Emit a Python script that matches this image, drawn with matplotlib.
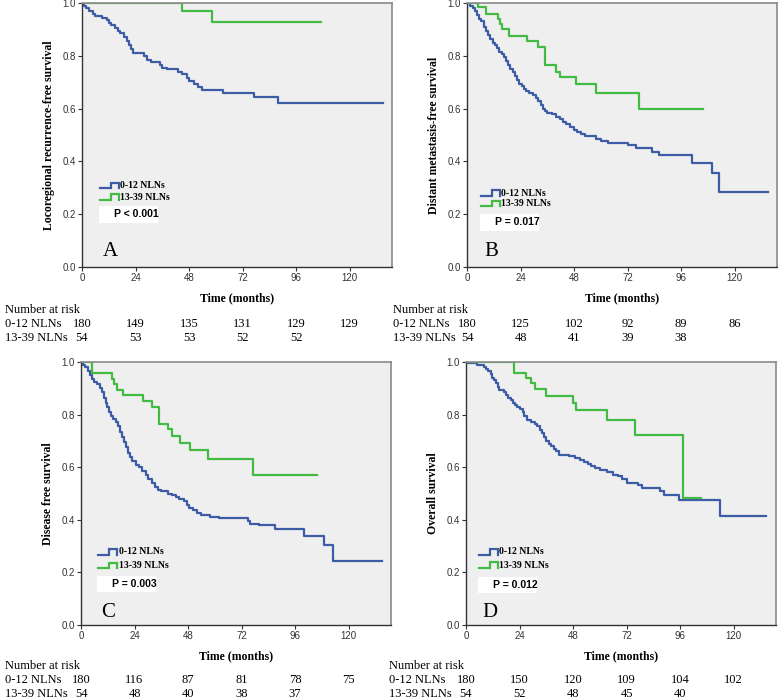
import matplotlib
matplotlib.use("Agg")
import matplotlib.pyplot as plt
from matplotlib.patches import Rectangle
from matplotlib.transforms import blended_transform_factory

# ---- data ----
a_blue_t = [1, 2, 3, 5, 6, 9, 11, 12, 13, 15, 16, 17, 19, 20, 21, 22, 23, 28, 29, 31,
            35, 36, 38, 43, 45, 47, 48, 50, 52, 54, 63, 77, 88]
a_blue_s = [0.99, 0.98, 0.97, 0.96, 0.95, 0.945, 0.935, 0.925, 0.915, 0.905, 0.895, 0.885,
            0.87, 0.855, 0.84, 0.825, 0.81, 0.80, 0.785, 0.775, 0.765, 0.755, 0.75, 0.74,
            0.73, 0.715, 0.705, 0.695, 0.68, 0.67, 0.66, 0.645, 0.62]
a_blue_end = 135
a_green_t = [45, 58.5]
a_green_s = [0.97, 0.927]
a_green_end = 107

b_blue_t = [1.5, 2.5, 3.5, 4.5, 5.5, 6.5, 7.5, 8.5, 9.5, 10.5, 11.5, 12.5, 13.5, 14.5, 15.5,
            16.5, 17.5, 18.5, 19.5, 20.5, 21.5, 22.5, 23.5, 24.5, 25.5, 26.5, 28, 29.5, 31,
            32, 33, 34, 35, 36, 38, 40, 41.5, 43, 44.5, 46, 48, 49.5, 51, 53, 58, 60, 63,
            72, 76, 83, 86, 101, 110, 113]
b_blue_s = [0.99, 0.98, 0.97, 0.955, 0.94, 0.93, 0.91, 0.895, 0.88, 0.865, 0.85, 0.84, 0.83,
            0.815, 0.805, 0.795, 0.78, 0.765, 0.75, 0.74, 0.725, 0.71, 0.695, 0.685, 0.675,
            0.665, 0.66, 0.65, 0.64, 0.63, 0.615, 0.60, 0.59, 0.583, 0.578, 0.57, 0.562,
            0.55, 0.54, 0.53, 0.52, 0.51, 0.502, 0.495, 0.485, 0.477, 0.47, 0.463, 0.452,
            0.437, 0.423, 0.395, 0.355, 0.285]
b_blue_end = 135
b_green_t = [4.8, 8.3, 13.9, 15, 15.5, 18.9, 27, 31.7, 35, 40, 41.5, 49, 58, 77]
b_green_s = [0.985, 0.96, 0.94, 0.92, 0.90, 0.875, 0.855, 0.833, 0.765, 0.74, 0.72, 0.693,
             0.66, 0.60]
b_green_end = 106

c_blue_t = [1, 2, 3, 4, 5, 6, 7, 8.5, 9.5, 10.5, 11, 11.5, 12.5, 13.5, 14.5, 15.5, 16.5,
            17.5, 18.5, 19.5, 20, 21, 22, 23, 24.5, 26, 27.5, 29, 30, 32, 33, 34.5, 36, 39,
            41, 42.5, 44, 46, 47.5, 48.5, 50, 52, 54, 58, 62, 75, 76, 80, 87, 100, 109, 113]
c_blue_s = [0.99, 0.98, 0.965, 0.95, 0.935, 0.925, 0.915, 0.9, 0.885, 0.865, 0.845, 0.83,
            0.81, 0.795, 0.785, 0.77, 0.755, 0.735, 0.715, 0.695, 0.675, 0.655, 0.64, 0.625,
            0.61, 0.6, 0.585, 0.57, 0.555, 0.54, 0.525, 0.515, 0.508, 0.5, 0.495, 0.487,
            0.48, 0.47, 0.455, 0.445, 0.438, 0.425, 0.418, 0.412, 0.405, 0.395, 0.385, 0.38,
            0.365, 0.34, 0.303, 0.243]
c_blue_end = 135
c_green_t = [4.8, 13.8, 15, 16, 19, 27.8, 32, 35, 39, 41, 44.5, 48.8, 57, 77]
c_green_s = [0.96, 0.935, 0.915, 0.895, 0.875, 0.85, 0.83, 0.765, 0.745, 0.72, 0.693, 0.665,
             0.633, 0.57]
c_green_end = 106

d_blue_t = [1, 5, 8, 9, 10, 11, 11.8, 12.5, 13.3, 14.5, 15, 17, 18, 18.7, 20, 21, 22, 23,
            24, 25.5, 26, 27.5, 29, 31, 32, 33, 34, 35, 36, 37, 38, 39.5, 40.5, 41.5, 46,
            49, 51, 53, 54.5, 56, 58, 60, 63, 66, 68, 70, 72, 77, 79, 87, 89, 95.5, 114]
d_blue_s = [0.995, 0.99, 0.98, 0.975, 0.965, 0.955, 0.94, 0.93, 0.92, 0.905, 0.895, 0.885,
            0.875, 0.865, 0.855, 0.845, 0.838, 0.83, 0.82, 0.81, 0.795, 0.778, 0.77, 0.765,
            0.755, 0.742, 0.73, 0.715, 0.70, 0.69, 0.68, 0.67, 0.66, 0.647, 0.641, 0.635,
            0.628, 0.62, 0.612, 0.605, 0.597, 0.59, 0.58, 0.572, 0.565, 0.556, 0.54, 0.533,
            0.52, 0.508, 0.494, 0.476, 0.415]
d_blue_end = 134.5
d_green_t = [21.5, 27, 29, 31, 36, 48, 49.5, 63, 76, 97.3]
d_green_s = [0.96, 0.94, 0.92, 0.896, 0.872, 0.845, 0.816, 0.78, 0.722, 0.483]
d_green_end = 105.5

ylabels = ["Locoregional recurrence-free survival", "Distant metastasis-free survival",
           "Disease free survival", "Overall survival"]
panel_letters = ["A", "B", "C", "D"]
p_texts = ["P < 0.001", "P = 0.017", "P = 0.003", "P = 0.012"]
group_names = ["0-12 NLNs", "13-39 NLNs"]
risk_times = [0, 24, 48, 72, 96, 120]
risk_blue = [[180, 149, 135, 131, 129, 129], [180, 125, 102, 92, 89, 86],
             [180, 116, 87, 81, 78, 75], [180, 150, 120, 109, 104, 102]]
risk_green = [[54, 53, 53, 52, 52], [54, 48, 41, 39, 38],
              [54, 48, 40, 38, 37], [54, 52, 48, 45, 40]]

curves = [
    (a_blue_t, a_blue_s, a_blue_end, a_green_t, a_green_s, a_green_end),
    (b_blue_t, b_blue_s, b_blue_end, b_green_t, b_green_s, b_green_end),
    (c_blue_t, c_blue_s, c_blue_end, c_green_t, c_green_s, c_green_end),
    (d_blue_t, d_blue_s, d_blue_end, d_green_t, d_green_s, d_green_end),
]

BLUE = "#3c5ca6"
GREEN = "#42bb42"
SERIF = ["Liberation Serif", "DejaVu Serif"]
SANS = ["Liberation Sans", "DejaVu Sans"]

W, H = 778, 700
fig = plt.figure(figsize=(W / 100, H / 100), dpi=100)

# axes boxes in pixels: left, top, right, bottom
boxes = [(82, 3, 392, 267), (467, 3, 777, 267), (81, 362, 391, 625), (466, 362, 776, 625)]
# legend anchor (axes fraction): x, blue y, green y, p y, letter y
leg_pos = [(0.058, 0.31, 0.265, 0.20, 0.06), (0.045, 0.28, 0.24, 0.17, 0.06),
           (0.055, 0.278, 0.226, 0.156, 0.047), (0.042, 0.278, 0.228, 0.152, 0.047)]
# risk table rows (pixels from top): header, row1, row2 ; label x
risk_rows = [(310, 324, 338, 5), (310, 324, 338, 393),
             (666, 680, 694, 5), (666, 680, 694, 389)]


def step_xy(t, s, end):
    xs = [0] + list(t) + [end]
    ys = [1.0] + list(s) + [s[-1]]
    return xs, ys


def legend_symbol(ax, x, y, color):
    w, h = 0.062, 0.02
    xs = [x, x + 0.55 * w, x + 0.55 * w, x + w, x + w]
    ys = [y - h / 2, y - h / 2, y + h / 2, y + h / 2, y - h / 2]
    ax.plot(xs, ys, color=color, lw=1.6, transform=ax.transAxes, clip_on=False,
            solid_joinstyle="miter")


for i, (bt, bs, be, gt, gs, ge) in enumerate(curves):
    l, t, r, b = boxes[i]
    ax = fig.add_axes([l / W, 1 - b / H, (r - l) / W, (b - t) / H])
    ax.set_facecolor("#efefef")

    x, y = step_xy(bt, bs, be)
    ax.step(x, y, where="post", color=BLUE, lw=1.6)
    x, y = step_xy(gt, gs, ge)
    ax.step(x, y, where="post", color=GREEN, lw=1.6)

    ax.set_xlim(0, 139)
    ax.set_ylim(0, 1.0)
    ax.set_xticks(risk_times)
    ax.set_yticks([0, 0.2, 0.4, 0.6, 0.8, 1.0])
    ax.set_yticklabels(["%.1f" % v for v in [0, 0.2, 0.4, 0.6, 0.8, 1.0]])
    ax.tick_params(length=3, width=0.8, pad=1.5, labelsize=7, colors="#333333")
    for lab in ax.get_xticklabels() + ax.get_yticklabels():
        lab.set_family(SANS)
    for side in ["top", "right"]:
        ax.spines[side].set_color("#8a8a8a")
        ax.spines[side].set_linewidth(1.2)
    for side in ["left", "bottom"]:
        ax.spines[side].set_color("#333333")
        ax.spines[side].set_linewidth(1.0)

    ax.set_xlabel("Time (months)", family=SERIF, fontweight="bold", fontsize=8.5)
    ax.xaxis.set_label_coords(0.5, -0.095)
    ax.set_ylabel(ylabels[i], family=SERIF, fontweight="bold", fontsize=8.5)
    ax.yaxis.set_label_coords(-0.088, 0.5)

    # legend + p value + panel letter
    lx, yb, yg, yp, yl = leg_pos[i]
    legend_symbol(ax, lx, yb, BLUE)
    legend_symbol(ax, lx, yg, GREEN)
    ax.text(lx + 0.066, yb, group_names[0], transform=ax.transAxes, va="center",
            family=SERIF, fontweight="bold", fontsize=7)
    ax.text(lx + 0.066, yg, group_names[1], transform=ax.transAxes, va="center",
            family=SERIF, fontweight="bold", fontsize=7)
    ax.add_patch(Rectangle((lx - 0.003, yp - 0.032), 0.19, 0.064, transform=ax.transAxes,
                           facecolor="white", edgecolor="none"))
    ax.text(lx + 0.045, yp, p_texts[i], transform=ax.transAxes, va="center",
            family=SANS, fontweight="bold", fontsize=7.5)
    ax.text(lx + 0.01, yl, panel_letters[i], transform=ax.transAxes, va="center",
            family=SERIF, fontsize=15)

    # number at risk table
    yh, y1, y2, lxpix = risk_rows[i]
    tr = blended_transform_factory(ax.transData, fig.transFigure)
    fig.text(lxpix / W, 1 - yh / H, "Number at risk", family=SERIF, fontsize=9,
             va="center")
    fig.text(lxpix / W, 1 - y1 / H, group_names[0], family=SERIF, fontsize=9, va="center")
    fig.text(lxpix / W, 1 - y2 / H, group_names[1], family=SERIF, fontsize=9, va="center")
    for tm, n in zip(risk_times, risk_blue[i]):
        ax.text(tm, 1 - y1 / H, str(n), transform=tr, ha="center", va="center",
                family=SERIF, fontsize=9)
    for tm, n in zip(risk_times, risk_green[i]):
        ax.text(tm, 1 - y2 / H, str(n), transform=tr, ha="center", va="center",
                family=SERIF, fontsize=9)

fig.savefig("out.png", dpi=100)
